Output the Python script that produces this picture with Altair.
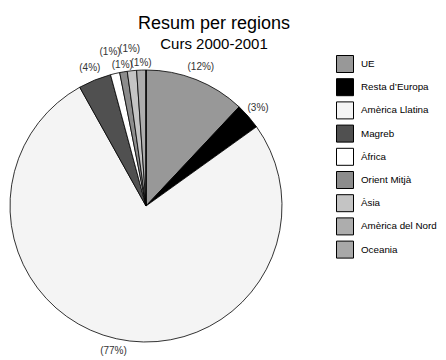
import altair as alt
import pandas as pd

regions = ["UE", "Resta d\u2019Europa", "Amèrica Llatina", "Magreb", "Àfrica",
           "Orient Mitjà", "Àsia", "Amèrica del Nord", "Oceania"]
values = [12.0, 3.1, 76.8, 3.9, 1.1, 0.9, 1.1, 1.1, 0.0]
labels = ["(12%)", "(3%)", "(77%)", "(4%)", "(1%)", "(1%)", "(1%)", "(1%)", ""]
fills = ["#989898", "#000000", "#f4f4f4", "#505050", "#ffffff",
         "#8c8c8c", "#c4c4c4", "#adadad", "#a8a8a8"]

df = pd.DataFrame({
    "regio": regions,
    "valor": values,
    "etiqueta": labels,
    "ordre": list(range(len(regions))),
})

FONT = "Liberation Sans"

base = alt.Chart(df).encode(
    theta=alt.Theta("valor:Q", stack=True),
    order=alt.Order("ordre:Q"),
)

pie = base.mark_arc(radius=136, stroke="black", strokeWidth=0.8).encode(
    color=alt.Color(
        "regio:N",
        scale=alt.Scale(domain=regions, range=fills),
        legend=alt.Legend(
            title=None,
            orient="none",
            legendX=328,
            legendY=-13,
            padding=0,
            symbolType="square",
            symbolSize=289,
            symbolStrokeColor="black",
            symbolStrokeWidth=1,
            symbolOpacity=1,
            labelFont=FONT,
            labelFontSize=9.8,
            labelColor="black",
            labelOffset=7,
            labelLimit=0,
            rowPadding=1.2,
        ),
    )
)

raised = "datum.regio == 'Àfrica' || datum.regio == 'Àsia'"
small = "datum.regio == 'Orient Mitjà' || datum.regio == 'Amèrica del Nord'"

def label_layer(expr, r):
    return base.transform_calculate(t=expr).mark_text(
        radius=r, font=FONT, fontSize=10, color="#333333"
    ).encode(text="t:N")

text_main = label_layer(f"({raised}) || ({small}) ? '' : datum.etiqueta", 149)
text_low = label_layer(f"({small}) ? datum.etiqueta : ''", 143)
text_high = label_layer(f"({raised}) ? datum.etiqueta : ''", 158)

chart = (
    alt.layer(pie, text_main, text_low, text_high)
    .properties(
        width=276,
        height=276,
        autosize=alt.AutoSizeParams(type="none"),
        padding={"left": 0, "top": 60, "right": 154, "bottom": 16},
        title=alt.TitleParams(
            text="Resum per regions",
            subtitle="Curs 2000-2001",
            anchor="middle",
            dx=68,
            offset=-9,
            font=FONT,
            fontSize=18,
            fontWeight="normal",
            color="black",
            subtitleFont=FONT,
            subtitleFontSize=15,
            subtitleColor="black",
            subtitlePadding=4,
        ),
    )
    .configure_view(stroke=None)
)

chart.save("out.html", embed_options={"renderer": "svg", "actions": False})
